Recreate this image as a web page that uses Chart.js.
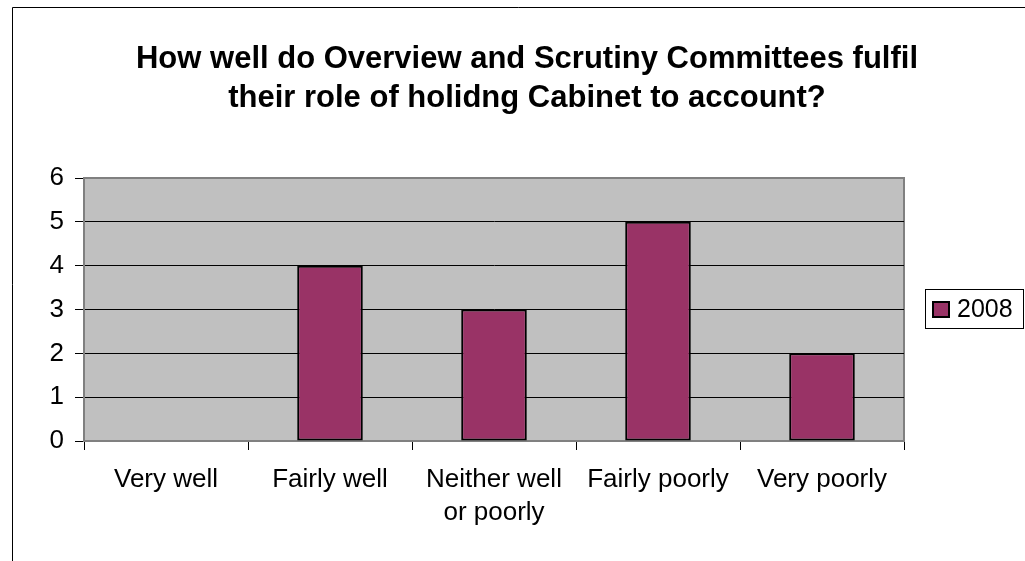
<!DOCTYPE html>
<html>
<head>
<meta charset="utf-8">
<script src="https://cdn.jsdelivr.net/npm/chart.js@4.4.1/dist/chart.umd.min.js"></script>
<style>
  html, body { margin: 0; padding: 0; background: #fff; }
  #wrap { width: 1025px; height: 561px; position: relative; }
</style>
</head>
<body>
<div id="wrap"><canvas id="c" width="1025" height="561"></canvas></div>
<script>
const titleLines = ["How well do Overview and Scrutiny Committees fulfil", "their role of holidng Cabinet to account?"];
const categories = ["Very well", "Fairly well", ["Neither well", "or poorly"], "Fairly poorly", "Very poorly"];
const seriesName = "2008";
const seriesValues = [0, 4, 3, 5, 2];
const yTicks = [0, 1, 2, 3, 4, 5, 6];

const FONT = "'Liberation Sans', Arial, sans-serif";

const decor = {
  id: 'decor',
  beforeDraw(chart) {
    const ctx = chart.ctx, a = chart.chartArea;
    ctx.save();
    ctx.fillStyle = '#fff';
    ctx.fillRect(0, 0, chart.width, chart.height);
    // outer frame (cropped)
    ctx.strokeStyle = '#000';
    ctx.lineWidth = 1;
    ctx.beginPath();
    ctx.moveTo(12.5, chart.height);
    ctx.lineTo(12.5, 7.5);
    ctx.lineTo(chart.width, 7.5);
    ctx.stroke();
    // plot background
    ctx.fillStyle = '#C0C0C0';
    ctx.fillRect(a.left, a.top, a.right - a.left, a.bottom - a.top);
    ctx.strokeStyle = '#808080';
    ctx.lineWidth = 2;
    ctx.strokeRect(a.left, a.top, a.right - a.left, a.bottom - a.top);
    ctx.restore();
  },
  afterDraw(chart) {
    const ctx = chart.ctx;
    ctx.save();
    // title
    ctx.fillStyle = '#000';
    ctx.font = "bold 31px " + FONT;
    ctx.textAlign = 'center';
    ctx.textBaseline = 'alphabetic';
    ctx.fillText(titleLines[0], 527, 68);
    ctx.fillText(titleLines[1], 527, 107);
    // legend
    const ds = chart.data.datasets[0];
    ctx.strokeStyle = '#000';
    ctx.lineWidth = 1;
    ctx.strokeRect(925.5, 289.5, 98, 39);
    ctx.fillStyle = ds.backgroundColor;
    ctx.fillRect(932, 301, 18, 17);
    ctx.lineWidth = 2;
    ctx.strokeRect(933, 302, 16, 15);
    ctx.fillStyle = '#000';
    ctx.font = "25px " + FONT;
    ctx.textAlign = 'left';
    ctx.textBaseline = 'middle';
    ctx.fillText(ds.label, 957, 310);
    ctx.restore();
  }
};

new Chart(document.getElementById('c'), {
  type: 'bar',
  data: {
    labels: categories,
    datasets: [{
      label: seriesName,
      data: seriesValues,
      backgroundColor: '#993366',
      borderColor: '#000',
      borderWidth: (c) => (c.raw === 0 ? 0 : 2),
      borderSkipped: false,
      categoryPercentage: 1.0,
      barPercentage: 0.4
    }]
  },
  options: {
    responsive: false,
    animation: false,
    devicePixelRatio: 1,
    layout: { padding: { left: 14, right: 121, top: 178, bottom: 0 } },
    plugins: {
      legend: { display: false },
      title: { display: false },
      tooltip: { enabled: false }
    },
    scales: {
      y: {
        min: 0, max: 6,
        afterFit(s) { s.width = 70; },
        afterBuildTicks(s) { s.ticks = yTicks.map(v => ({ value: v })); },
        ticks: { color: '#000', font: { family: FONT, size: 26 }, padding: 11 },
        grid: {
          color: (c) => (c.tick && (c.tick.value === 6 || c.tick.value === 0)) ? '#808080' : '#000',
          tickColor: '#000',
          tickLength: 9,
          lineWidth: 1
        },
        border: { color: '#808080', width: 2 }
      },
      x: {
        afterFit(s) { s.height = 120; },
        ticks: { color: '#000', font: { family: FONT, size: 26, lineHeight: 1.27 }, padding: 13, maxRotation: 0, autoSkip: false },
        grid: { offset: true, drawOnChartArea: false, drawTicks: true, tickLength: 9, color: '#000' },
        border: { color: '#808080', width: 2 }
      }
    }
  },
  plugins: [decor]
});
</script>
</body>
</html>
